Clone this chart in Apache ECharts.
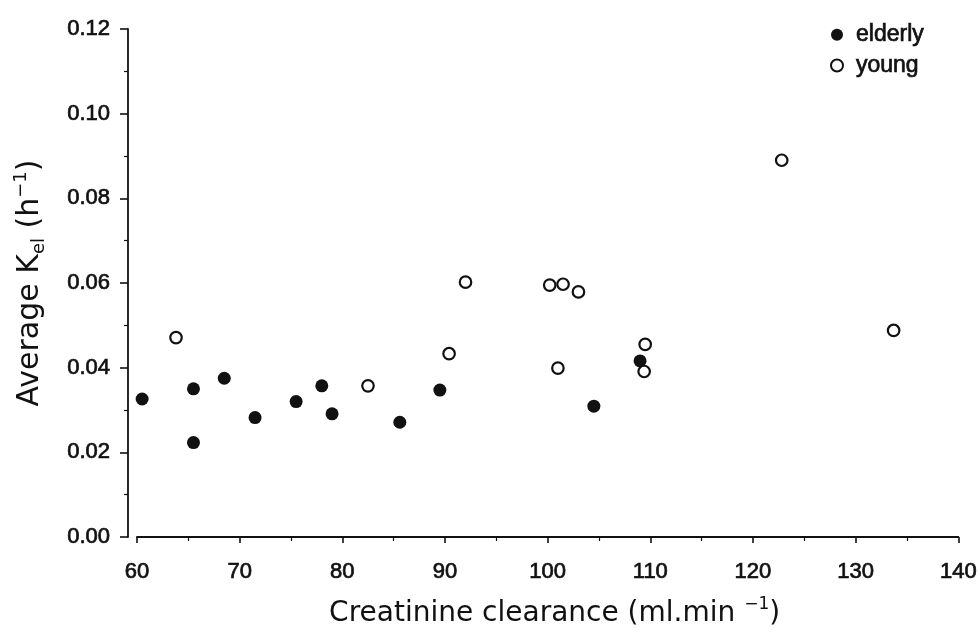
<!DOCTYPE html>
<html>
<head>
<meta charset="utf-8">
<title>Average Kel vs creatinine clearance</title>
<script src="https://cdn.jsdelivr.net/npm/echarts@6/dist/echarts.min.js"></script>
<style>
  html, body { margin: 0; padding: 0; background: #ffffff; }
  #chart { width: 980px; height: 634px; }
</style>
</head>
<body>
<div id="chart"></div>
<script>
// Creatinine clearance (ml/min) and average elimination rate constant (1/h)
const elderlyX = [60.5, 65.5, 65.5, 68.5, 71.5, 75.5, 78.0, 79.0, 85.6, 89.5, 104.5, 109.0];
const elderlyY = [0.0326, 0.0350, 0.0223, 0.0375, 0.0282, 0.0320, 0.0357, 0.0291, 0.0271, 0.0347, 0.0309, 0.0416];
const youngX = [63.8, 82.5, 90.4, 92.0, 100.2, 101.0, 101.5, 103.0, 109.4, 109.5, 122.8, 133.7];
const youngY = [0.0471, 0.0357, 0.0433, 0.0602, 0.0595, 0.0399, 0.0597, 0.0579, 0.0391, 0.0455, 0.0890, 0.0488];
const seriesNames = ['elderly', 'young'];

const pairs = (xs, ys) => xs.map((x, i) => [x, ys[i]]);

const tickFont = '"Liberation Sans", Arial, Helvetica, sans-serif';
const titleFont = '"DejaVu Sans", "Liberation Sans", Arial, sans-serif';
const ink = '#111111';

// slightly heavier strokes for the small print
const heavy = { textBorderColor: ink, textBorderWidth: 0.7 };

const titleRich = (size) => ({
  base: { fontFamily: titleFont, fontSize: size, lineHeight: 36, color: ink },
  sub:  { fontFamily: titleFont, fontSize: Math.round(size * 0.6), lineHeight: 17, verticalAlign: 'bottom', color: ink },
  sup:  { fontFamily: titleFont, fontSize: Math.round(size * 0.6), lineHeight: 17, verticalAlign: 'top', color: ink }
});

const chart = echarts.init(document.getElementById('chart'), null, { renderer: 'canvas' });

chart.setOption({
  animation: false,
  backgroundColor: '#ffffff',
  grid: { left: 137, right: 19, top: 29, bottom: 97, containLabel: false },
  legend: {
    orient: 'vertical',
    left: 825,
    top: 18,
    itemWidth: 12,
    itemHeight: 12,
    itemGap: 7,
    textStyle: Object.assign({ fontFamily: tickFont, fontSize: 23, color: ink, padding: [0, 0, 0, 8] }, heavy),
    data: [
      { name: seriesNames[0], icon: 'circle', itemStyle: { color: ink, borderWidth: 0 } },
      { name: seriesNames[1], icon: 'circle', itemStyle: { color: '#ffffff', borderColor: ink, borderWidth: 2 } }
    ]
  },
  xAxis: {
    type: 'value',
    min: 60,
    max: 140,
    interval: 10,
    axisLine: { show: true, onZero: false, lineStyle: { color: ink, width: 1.8 } },
    axisTick: { show: true, inside: false, length: 6, lineStyle: { color: ink, width: 1.6 } },
    minorTick: { show: true, splitNumber: 2, length: 4, lineStyle: { color: ink, width: 1.2 } },
    splitLine: { show: false },
    axisLabel: Object.assign({ fontFamily: tickFont, fontSize: 22, color: ink, margin: 24 }, heavy),
    name: '{base|Creatinine clearance (ml.min }{sup|−1}{base|)}',
    nameLocation: 'middle',
    nameGap: 59,
    nameTextStyle: { rich: titleRich(28), padding: [0, 0, 0, 14] }
  },
  yAxis: {
    type: 'value',
    min: 0,
    max: 0.12,
    interval: 0.02,
    offset: 9,
    axisLine: { show: true, onZero: false, lineStyle: { color: ink, width: 1.8 } },
    axisTick: { show: true, inside: false, length: 8, lineStyle: { color: ink, width: 1.6 } },
    minorTick: { show: true, splitNumber: 2, length: 4, lineStyle: { color: ink, width: 1.2 } },
    splitLine: { show: false },
    axisLabel: Object.assign({
      fontFamily: tickFont, fontSize: 22, color: ink, margin: 18,
      formatter: v => v.toFixed(2)
    }, heavy),
    name: '{base|Average K}{sub|el}{base| (h}{sup|−1}{base|)}',
    nameLocation: 'middle',
    nameRotate: 90,
    nameGap: 80,
    nameTextStyle: { rich: titleRich(30) }
  },
  series: [
    {
      name: seriesNames[0],
      type: 'scatter',
      symbol: 'circle',
      symbolSize: 13,
      itemStyle: { color: ink, opacity: 1 },
      data: pairs(elderlyX, elderlyY)
    },
    {
      name: seriesNames[1],
      type: 'scatter',
      symbol: 'circle',
      symbolSize: 11.5,
      itemStyle: { color: '#ffffff', borderColor: ink, borderWidth: 2.2, opacity: 1 },
      data: pairs(youngX, youngY)
    }
  ]
});
</script>
</body>
</html>
